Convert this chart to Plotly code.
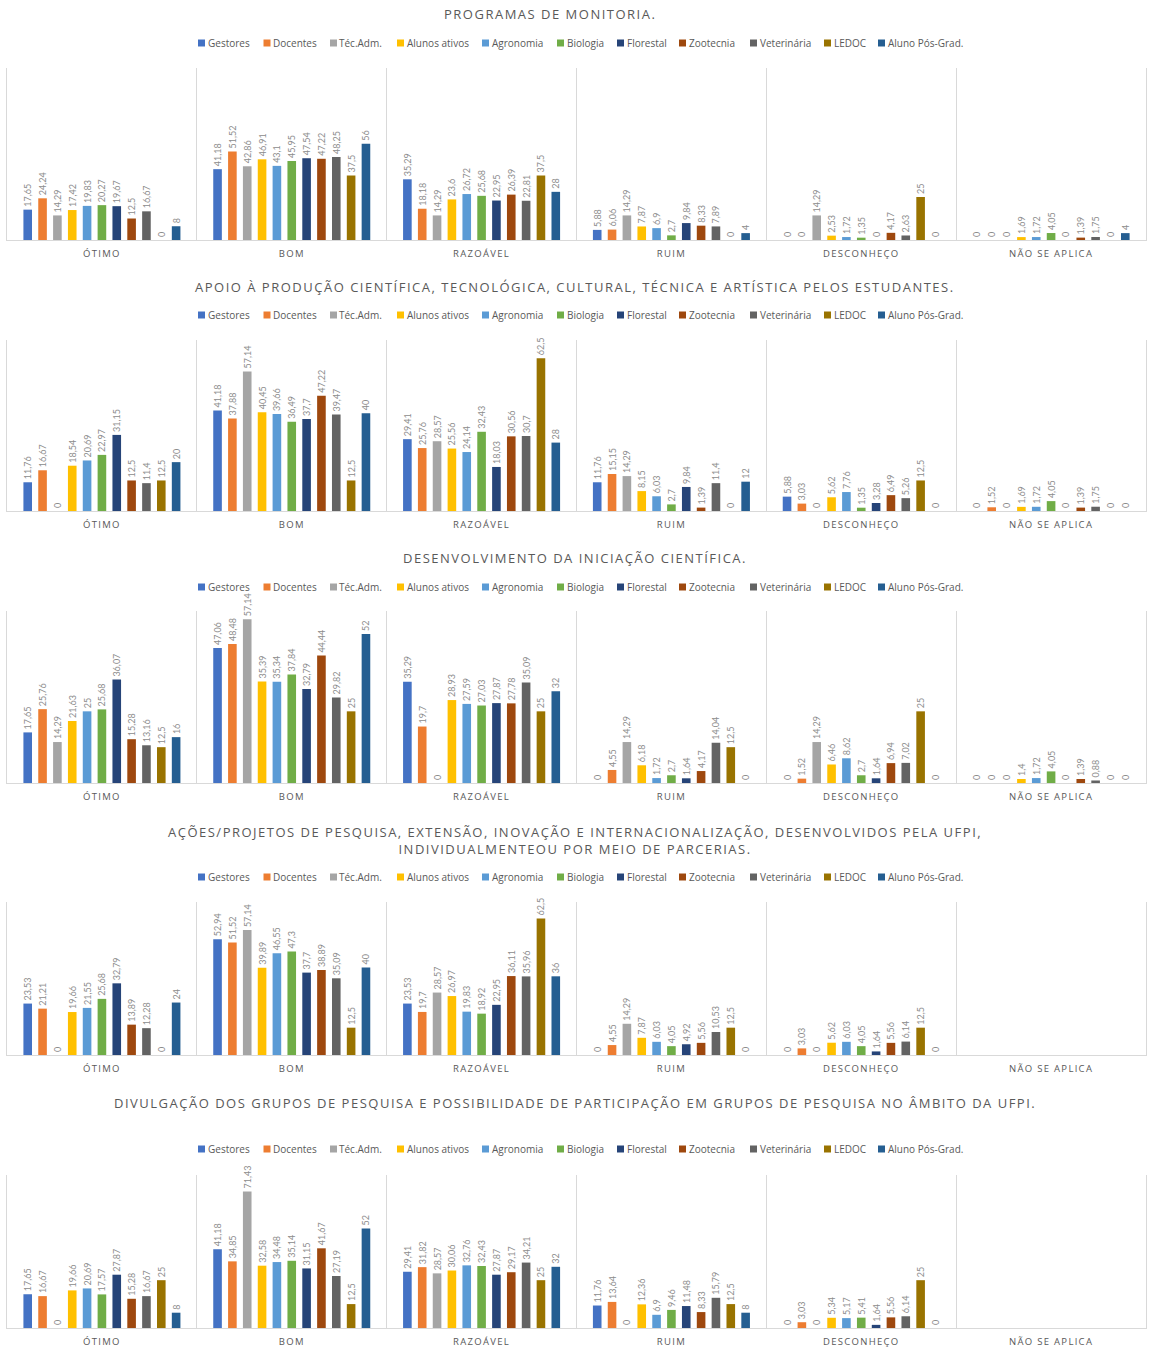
import plotly.graph_objects as go

# ---------------- data ----------------
series = ["Gestores", "Docentes", "Téc.Adm.", "Alunos ativos", "Agronomia", "Biologia",
          "Florestal", "Zootecnia", "Veterinária", "LEDOC", "Aluno Pós-Grad."]
colors = ["#4472C4", "#ED7D31", "#A5A5A5", "#FFC000", "#5B9BD5", "#70AD47",
          "#264478", "#9E480E", "#636363", "#997300", "#255E91"]
categories = ["ÓTIMO", "BOM", "RAZOÁVEL", "RUIM", "DESCONHEÇO", "NÃO SE APLICA"]

titles = [
    "PROGRAMAS DE MONITORIA.",
    "APOIO À PRODUÇÃO CIENTÍFICA, TECNOLÓGICA, CULTURAL, TÉCNICA E ARTÍSTICA PELOS ESTUDANTES.",
    "DESENVOLVIMENTO DA INICIAÇÃO CIENTÍFICA.",
    "AÇÕES/PROJETOS DE PESQUISA, EXTENSÃO, INOVAÇÃO E INTERNACIONALIZAÇÃO, DESENVOLVIDOS PELA UFPI,<br>INDIVIDUALMENTEOU POR MEIO DE PARCERIAS.",
    "DIVULGAÇÃO DOS GRUPOS DE PESQUISA E POSSIBILIDADE DE PARTICIPAÇÃO EM GRUPOS DE PESQUISA NO ÂMBITO DA UFPI.",
]

# rows = categories (ÓTIMO ... NÃO SE APLICA), columns = series
monitoria = [
    [17.65, 24.24, 14.29, 17.42, 19.83, 20.27, 19.67, 12.5, 16.67, 0, 8],
    [41.18, 51.52, 42.86, 46.91, 43.1, 45.95, 47.54, 47.22, 48.25, 37.5, 56],
    [35.29, 18.18, 14.29, 23.6, 26.72, 25.68, 22.95, 26.39, 22.81, 37.5, 28],
    [5.88, 6.06, 14.29, 7.87, 6.9, 2.7, 9.84, 8.33, 7.89, 0, 4],
    [0, 0, 14.29, 2.53, 1.72, 1.35, 0, 4.17, 2.63, 25, 0],
    [0, 0, 0, 1.69, 1.72, 4.05, 0, 1.39, 1.75, 0, 4],
]
apoio_producao = [
    [11.76, 16.67, 0, 18.54, 20.69, 22.97, 31.15, 12.5, 11.4, 12.5, 20],
    [41.18, 37.88, 57.14, 40.45, 39.66, 36.49, 37.7, 47.22, 39.47, 12.5, 40],
    [29.41, 25.76, 28.57, 25.56, 24.14, 32.43, 18.03, 30.56, 30.7, 62.5, 28],
    [11.76, 15.15, 14.29, 8.15, 6.03, 2.7, 9.84, 1.39, 11.4, 0, 12],
    [5.88, 3.03, 0, 5.62, 7.76, 1.35, 3.28, 6.49, 5.26, 12.5, 0],
    [0, 1.52, 0, 1.69, 1.72, 4.05, 0, 1.39, 1.75, 0, 0],
]
iniciacao = [
    [17.65, 25.76, 14.29, 21.63, 25, 25.68, 36.07, 15.28, 13.16, 12.5, 16],
    [47.06, 48.48, 57.14, 35.39, 35.34, 37.84, 32.79, 44.44, 29.82, 25, 52],
    [35.29, 19.7, 0, 28.93, 27.59, 27.03, 27.87, 27.78, 35.09, 25, 32],
    [0, 4.55, 14.29, 6.18, 1.72, 2.7, 1.64, 4.17, 14.04, 12.5, 0],
    [0, 1.52, 14.29, 6.46, 8.62, 2.7, 1.64, 6.94, 7.02, 25, 0],
    [0, 0, 0, 1.4, 1.72, 4.05, 0, 1.39, 0.88, 0, 0],
]
acoes_projetos = [
    [23.53, 21.21, 0, 19.66, 21.55, 25.68, 32.79, 13.89, 12.28, 0, 24],
    [52.94, 51.52, 57.14, 39.89, 46.55, 47.3, 37.7, 38.89, 35.09, 12.5, 40],
    [23.53, 19.7, 28.57, 26.97, 19.83, 18.92, 22.95, 36.11, 35.96, 62.5, 36],
    [0, 4.55, 14.29, 7.87, 6.03, 4.05, 4.92, 5.56, 10.53, 12.5, 0],
    [0, 3.03, 0, 5.62, 6.03, 4.05, 1.64, 5.56, 6.14, 12.5, 0],
    [None] * 11,
]
divulgacao = [
    [17.65, 16.67, 0, 19.66, 20.69, 17.57, 27.87, 15.28, 16.67, 25, 8],
    [41.18, 34.85, 71.43, 32.58, 34.48, 35.14, 31.15, 41.67, 27.19, 12.5, 52],
    [29.41, 31.82, 28.57, 30.06, 32.76, 32.43, 27.87, 29.17, 34.21, 25, 32],
    [11.76, 13.64, 0, 12.36, 6.9, 9.46, 11.48, 8.33, 15.79, 12.5, 8],
    [0, 3.03, 0, 5.34, 5.17, 5.41, 1.64, 5.56, 6.14, 25, 0],
    [None] * 11,
]
charts = [monitoria, apoio_producao, iniciacao, acoes_projetos, divulgacao]
y_max = [100, 70, 60, 70, 80]

# ---------------- layout geometry (pixels) ----------------
W, H = 1154, 1347
plot_px = [(68, 240), (340, 511), (611, 783), (902, 1055), (1175, 1328)]
title_px = [(550, 14), (575, 287), (575, 558), (575, 840), (575, 1103)]
legend_y_px = [43, 315, 587, 877, 1149]
legend_sq_px = [198, 263.5, 330, 397, 482, 557, 617, 679, 750, 824, 878]
SQ = 7
x0_px, x1_px = 7, 1146

TXT = "#595959"
GRID = "#D9D9D9"


def spaced(s, px):
    return '<span style="letter-spacing:%spx">%s</span>' % (px, s)


def fmt(v):
    if v is None:
        return ""
    return ("%g" % v).replace(".", ",")


fig = go.Figure()
annotations = []
shapes = []
layout = dict(
    width=W, height=H, margin=dict(l=0, r=0, t=0, b=0),
    paper_bgcolor="white", plot_bgcolor="white",
    barmode="group", bargap=0.14, bargroupgap=0.42,
    font=dict(family="Open Sans", color=TXT),
    showlegend=False,
)

for k, data in enumerate(charts):
    sfx = "" if k == 0 else str(k + 1)
    for j, name in enumerate(series):
        vals = [row[j] for row in data]
        fig.add_trace(go.Bar(
            x=categories, y=vals, name=name,
            marker=dict(color=colors[j], line=dict(width=0)),
            text=[fmt(v) for v in vals],
            textposition="outside", textangle=-90, constraintext="none",
            textfont=dict(family="Lato", size=9, color="#8C8C8C"),
            cliponaxis=False, showlegend=False,
            xaxis="x" + sfx, yaxis="y" + sfx,
        ))
    top, bot = plot_px[k]
    layout["xaxis" + sfx] = dict(
        domain=[x0_px / W, x1_px / W], anchor="y" + sfx,
        type="category", range=[-0.5, 5.5], tickson="boundaries",
        tickmode="array", tickvals=categories,
        ticktext=[spaced(c, 1.3) for c in categories],
        showgrid=True, gridcolor=GRID, gridwidth=1,
        showline=True, linecolor=GRID, linewidth=1,
        ticks="", tickfont=dict(family="Open Sans", size=9.5, color=TXT),
        ticklabelstandoff=5, fixedrange=True,
    )
    layout["yaxis" + sfx] = dict(
        domain=[1 - bot / H, 1 - top / H], anchor="x" + sfx,
        range=[0, y_max[k]], showgrid=False, zeroline=False,
        showticklabels=False, ticks="",
        showline=True, mirror=True, linecolor=GRID, linewidth=1,
        fixedrange=True,
    )
    # title
    tx, ty = title_px[k]
    annotations.append(dict(
        text="<br>".join(spaced(p, 1.5) for p in titles[k].split("<br>")),
        xref="paper", yref="paper",
        x=tx / W, y=1 - ty / H, xanchor="center", yanchor="middle",
        showarrow=False, font=dict(family="Open Sans", size=13, color=TXT),
        align="center",
    ))
    # legend (colour key)
    ly = legend_y_px[k]
    for j, name in enumerate(series):
        sx = legend_sq_px[j]
        shapes.append(dict(
            type="rect", xref="paper", yref="paper",
            x0=sx / W, x1=(sx + SQ) / W,
            y0=1 - (ly + SQ / 2) / H, y1=1 - (ly - SQ / 2) / H,
            fillcolor=colors[j], line=dict(width=0),
        ))
        annotations.append(dict(
            text=name, xref="paper", yref="paper",
            x=(sx + SQ + 0.5) / W, y=1 - ly / H,
            xanchor="left", yanchor="middle", showarrow=False,
            font=dict(family="Open Sans", size=10, color=TXT),
        ))

layout["annotations"] = annotations
layout["shapes"] = shapes
fig.update_layout(**layout)
fig.write_html(
    "out.html",
    config={"displayModeBar": False},
    post_script="document.body.style.margin='0';document.body.style.overflow='hidden';",
)
